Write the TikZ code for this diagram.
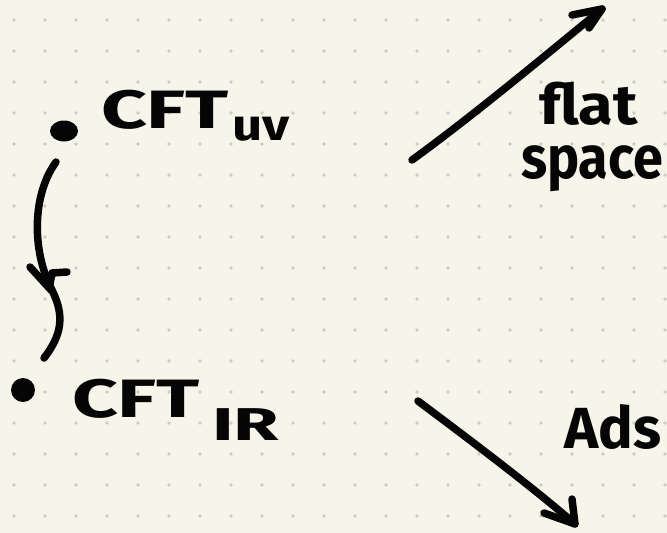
\documentclass[tikz,border=0pt]{standalone}
\usepackage{fontspec}
\setmainfont{Fira Sans}
\usepackage{graphicx}
\definecolor{paper}{HTML}{F7F5E9}
\definecolor{griddot}{HTML}{CDCCC4}
\definecolor{ink}{HTML}{050505}
\tikzset{
  pen/.style={draw=ink, line width=7.5pt, line cap=round, line join=round},
  blob/.style={fill=ink, draw=none},
  hand/.style={inner sep=0pt, outer sep=0pt, text=ink, font=\bfseries},
}
\newcommand{\handsize}[1]{\fontsize{#1}{#1}\selectfont}
\begin{document}
\begin{tikzpicture}[x=1pt, y=-1pt]
  % paper with dot grid
  \fill[paper] (0,0) rectangle (667,533);
  \useasboundingbox (0,0) rectangle (667,533);
  \foreach \i in {0,...,21}
    \foreach \j in {0,...,16}
      \fill[griddot] ({14+31*\i},{20+31*\j}) circle (1.9pt);

  % the two points
  \fill[blob] (64,131) ellipse (14pt and 10.5pt);
  \fill[blob] (23,390) ellipse (12pt and 12pt);

  % labels of the two theories
  \node[hand, anchor=base west, font=\bfseries\handsize{54}] (cftuv) at (101,128) {\scalebox{1.48}[1]{CFT}};
  \node[hand, anchor=base west, font=\bfseries\handsize{44}] (uv) at (232,140) {\scalebox{1.2}[1]{uv}};
  \node[hand, anchor=base west, font=\bfseries\handsize{54}] (cftir) at (72,417) {\scalebox{1.48}[1]{CFT}};
  \node[hand, anchor=base west, font=\bfseries\handsize{46}] (ir) at (212,440) {\scalebox{1.6}[1]{IR}};

  % RG flow from UV to IR
  \coordinate (flowA) at (56,162);
  \coordinate (flowB) at (44,358);
  \draw[pen] (flowA) .. controls (32,195) and (32,250) .. (51,288)
             .. controls (62,310) and (66,330) .. (flowB);
  \draw[pen] (30,267) -- (51,290);
  \draw[pen] (67,272) -- (52,273) -- (50,284);

  % the two geometries
  \coordinate (upA) at (412,160);
  \coordinate (upB) at (602,9);
  \draw[pen] (upA) .. controls (470,118) and (540,60) .. (upB);
  \draw[pen] (572,15) -- (upB) -- (589,28);
  \node[hand, anchor=base west, font=\bfseries\handsize{56}] (flat) at (539,124) {\scalebox{1.13}[1]{flat}};
  \node[hand, anchor=base west, font=\bfseries\handsize{60}] (space) at (521,178) {\scalebox{0.9}[1]{space}};

  \coordinate (dnA) at (418,401);
  \coordinate (dnB) at (575,524);
  \draw[pen] (dnA) .. controls (470,440) and (530,485) .. (dnB);
  \draw[pen] (572,499) -- (dnB) -- (544,513);
  \node[hand, anchor=base west, font=\bfseries\handsize{58}] (ads) at (564,448) {Ads};
\end{tikzpicture}
\end{document}
